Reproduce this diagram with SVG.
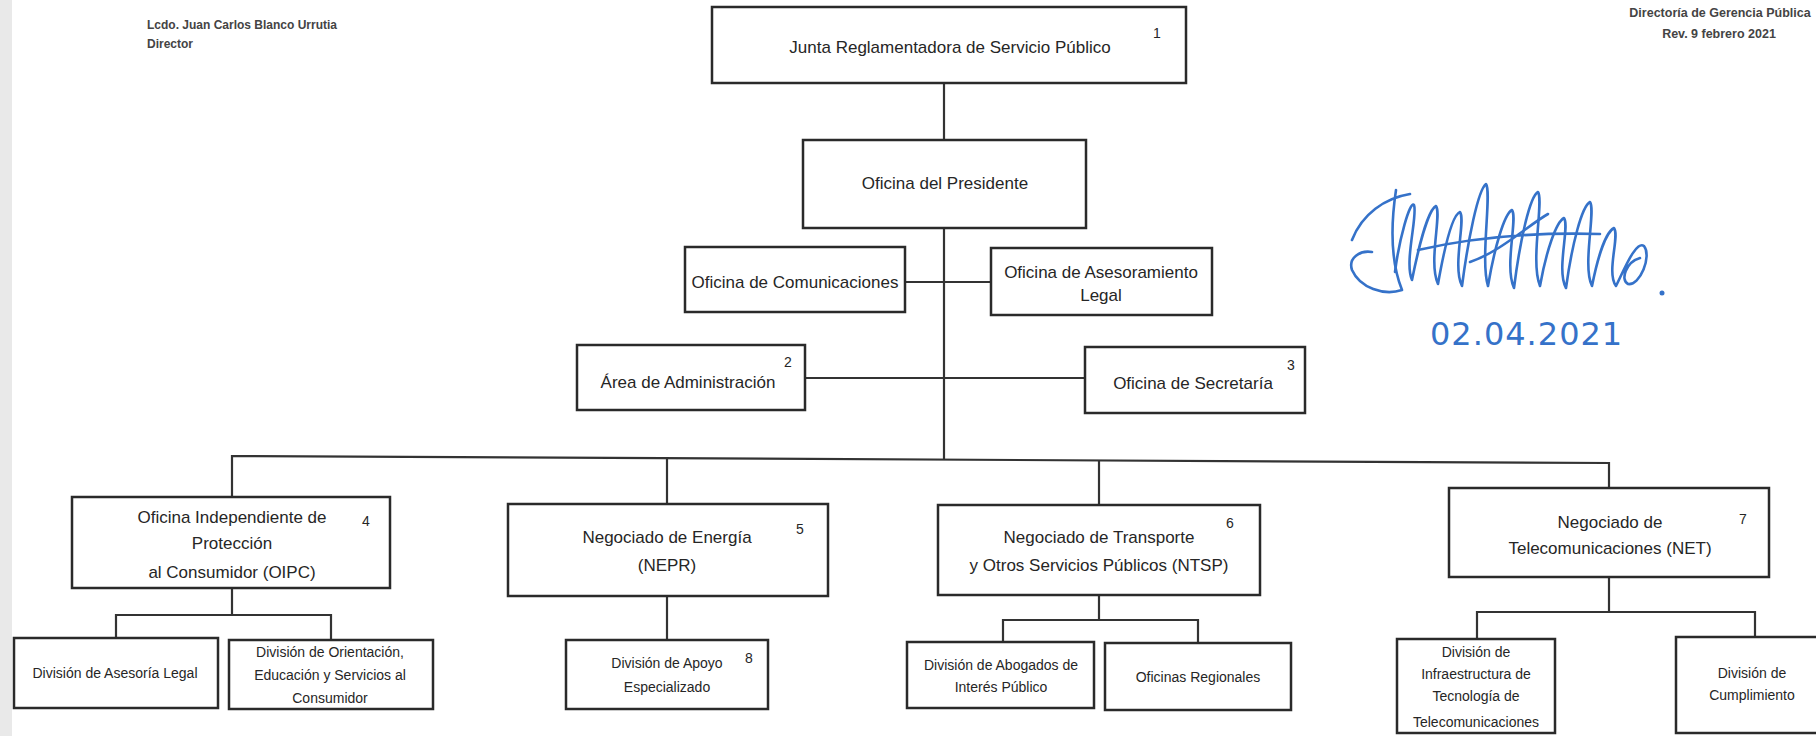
<svg xmlns="http://www.w3.org/2000/svg" width="1816" height="736" viewBox="0 0 1816 736">
<style>
.box{fill:#fff;stroke:#2a2a2a;stroke-width:2.5}
.con{fill:none;stroke:#333;stroke-width:2.2}
text{font-family:"Liberation Sans",Arial,sans-serif;fill:#262626}
.t{font-size:17px;text-anchor:middle}
.s{font-size:14px;text-anchor:middle}
.n{font-size:14px;text-anchor:middle}
.h{font-size:12px;font-weight:bold;fill:#444}
.sig{fill:none;stroke:#3572c9;stroke-width:2.6;stroke-linecap:round;stroke-linejoin:round}
</style>
<rect x="0" y="0" width="1816" height="736" fill="#fff"/>
<rect x="0" y="0" width="12" height="736" fill="#e9e9e9"/>

<g id="header">
<text class="h" x="147" y="29">Lcdo. Juan Carlos Blanco Urrutia</text>
<text class="h" x="147" y="48">Director</text>
<text class="h" x="1720" y="17" text-anchor="middle" style="font-size:12.5px">Directoría de Gerencia Pública</text>
<text class="h" x="1719" y="38" text-anchor="middle" style="font-size:12.5px">Rev. 9 febrero 2021</text>
</g>

<g id="connectors">
<path class="con" d="M944 83V459"/>
<path class="con" d="M905 282H991"/>
<path class="con" d="M805 378H1085"/>
<path class="con" d="M232 497V456L1609 463V488"/>
<path class="con" d="M667 457V504"/>
<path class="con" d="M1099 460V505"/>
<path class="con" d="M232 588V615M116 638V615H331V640"/>
<path class="con" d="M667 596V640"/>
<path class="con" d="M1099 595V620M1003 642V620H1198V643"/>
<path class="con" d="M1609 577V612M1477 639V612H1755V637"/>
</g>

<g id="n1"><rect class="box" x="712" y="7" width="474" height="76"/>
<text class="t" x="950" y="53">Junta Reglamentadora de Servicio Público</text>
<text class="n" x="1157" y="38">1</text></g>

<g id="presidente"><rect class="box" x="803" y="140" width="283" height="88"/>
<text class="t" x="945" y="189">Oficina del Presidente</text></g>

<g id="comunicaciones"><rect class="box" x="685" y="247" width="220" height="65"/>
<text class="t" x="795" y="288">Oficina de Comunicaciones</text></g>

<g id="asesoramiento"><rect class="box" x="991" y="248" width="221" height="67"/>
<text class="t" x="1101" y="278">Oficina de Asesoramiento</text>
<text class="t" x="1101" y="301">Legal</text></g>

<g id="n2"><rect class="box" x="577" y="345" width="228" height="65"/>
<text class="t" x="688" y="388">Área de Administración</text>
<text class="n" x="788" y="367">2</text></g>

<g id="n3"><rect class="box" x="1085" y="347" width="220" height="66"/>
<text class="t" x="1193" y="389">Oficina de Secretaría</text>
<text class="n" x="1291" y="370">3</text></g>

<g id="n4"><rect class="box" x="72" y="497" width="318" height="91"/>
<text class="t" x="232" y="523">Oficina Independiente de</text>
<text class="t" x="232" y="549">Protección</text>
<text class="t" x="232" y="578">al Consumidor (OIPC)</text>
<text class="n" x="366" y="526">4</text></g>

<g id="asesoria-legal"><rect class="box" x="14" y="638" width="204" height="70"/>
<text class="s" x="115" y="678">División de Asesoría Legal</text></g>

<g id="orientacion"><rect class="box" x="229" y="640" width="204" height="69"/>
<text class="s" x="330" y="657">División de Orientación,</text>
<text class="s" x="330" y="680">Educación y Servicios al</text>
<text class="s" x="330" y="703">Consumidor</text></g>

<g id="n5"><rect class="box" x="508" y="504" width="320" height="92"/>
<text class="t" x="667" y="543">Negociado de Energía</text>
<text class="t" x="667" y="571">(NEPR)</text>
<text class="n" x="800" y="534">5</text></g>

<g id="n8"><rect class="box" x="566" y="640" width="202" height="69"/>
<text class="s" x="667" y="668">División de Apoyo</text>
<text class="s" x="667" y="692">Especializado</text>
<text class="n" x="749" y="663">8</text></g>

<g id="n6"><rect class="box" x="938" y="505" width="322" height="90"/>
<text class="t" x="1099" y="543">Negociado de Transporte</text>
<text class="t" x="1099" y="571">y Otros Servicios Públicos (NTSP)</text>
<text class="n" x="1230" y="528">6</text></g>

<g id="abogados"><rect class="box" x="907" y="642" width="187" height="66"/>
<text class="s" x="1001" y="670">División de Abogados de</text>
<text class="s" x="1001" y="692">Interés Público</text></g>

<g id="regionales"><rect class="box" x="1105" y="643" width="186" height="67"/>
<text class="s" x="1198" y="682">Oficinas Regionales</text></g>

<g id="n7"><rect class="box" x="1449" y="488" width="320" height="89"/>
<text class="t" x="1610" y="528">Negociado de</text>
<text class="t" x="1610" y="554">Telecomunicaciones (NET)</text>
<text class="n" x="1743" y="524">7</text></g>

<g id="infraestructura"><rect class="box" x="1397" y="639" width="158" height="94"/>
<text class="s" x="1476" y="657">División de</text>
<text class="s" x="1476" y="679">Infraestructura de</text>
<text class="s" x="1476" y="701">Tecnología de</text>
<text class="s" x="1476" y="727">Telecomunicaciones</text></g>

<g id="cumplimiento"><rect class="box" x="1676" y="637" width="160" height="96"/>
<text class="s" x="1752" y="678">División de</text>
<text class="s" x="1752" y="700">Cumplimiento</text></g>

<g id="signature">
<path class="sig" d="M1352 240C1362 214 1385 198 1410 194M1396 190C1390 230 1392 265 1402 290C1384 296 1360 288 1352 270C1348 258 1360 250 1372 252"/>
<path class="sig" d="M1395 272C1399 240 1410 200 1414 205C1418 215 1404 262 1412 280C1418 250 1428 210 1436 206C1442 214 1428 262 1438 284C1444 250 1452 215 1460 212C1466 220 1452 266 1462 286C1468 240 1478 190 1486 184C1492 192 1480 260 1488 286C1494 250 1504 214 1512 210C1518 218 1504 266 1514 288C1520 240 1530 196 1538 192C1544 200 1530 262 1540 286C1546 252 1556 222 1564 218C1570 226 1556 270 1566 288C1572 244 1582 206 1590 202C1596 210 1582 266 1592 286C1598 256 1606 232 1614 228C1620 236 1606 272 1616 286C1624 270 1636 240 1644 246C1652 256 1640 286 1628 284C1620 280 1626 262 1640 258"/>
<path class="sig" d="M1418 250C1470 238 1530 232 1600 234M1470 262C1500 252 1530 224 1548 214"/>
<circle cx="1662" cy="293" r="2.5" fill="#3572c9"/>
<text x="1430" y="345" style="font-family:'DejaVu Sans',sans-serif;font-size:32px;fill:#3572c9" letter-spacing="1">02.04.2021</text>
</g>
</svg>
